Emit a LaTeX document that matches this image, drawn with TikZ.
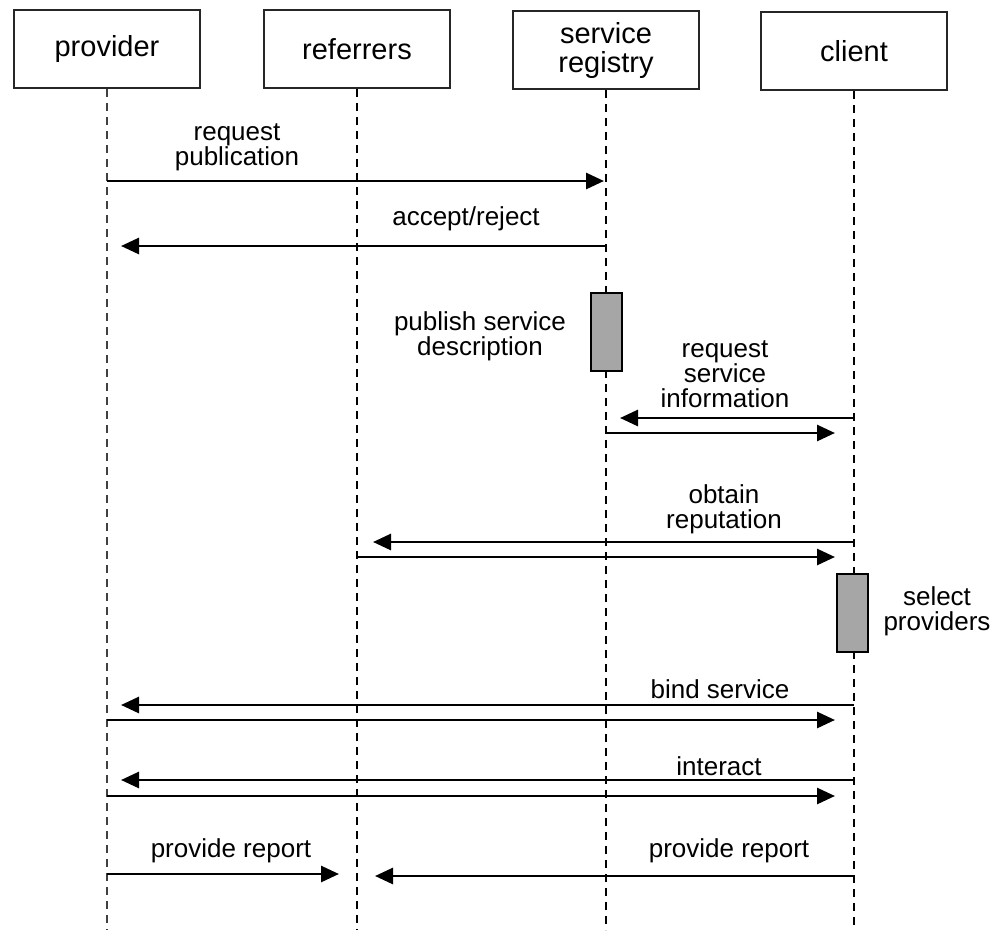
\documentclass[tikz,border=0pt]{standalone}
\usepackage{fontspec}
\setmainfont{Liberation Sans}
\usetikzlibrary{arrows.meta}
\begin{document}
\begin{tikzpicture}[x=1pt,y=-1pt,
  actor/.style={draw=black!85,line width=2pt,minimum width=186pt,minimum height=78pt,
    inner sep=0pt,align=center,font=\fontsize{29}{29}\selectfont},
  lifeline/.style={draw=black,line width=2.2pt,dash pattern=on 8pt off 6pt},
  msg/.style={draw=black,line width=2.8pt,-{Triangle[length=18pt,width=16pt]}},
  lbl/.style={align=center,inner sep=0pt,font=\fontsize{26}{25}\selectfont},
  actbar/.style={draw=black,line width=2pt,fill=black!35,minimum width=31pt,
    minimum height=78pt,inner sep=0pt}]
\useasboundingbox (0,0) rectangle (997,930);

% participants
\node[actor] (prov) at (107,49) {provider};
\node[actor] (refr) at (357,49) {referrers};
\node[actor] (reg)  at (606,50) {service\\registry};
\node[actor] (cli)  at (854,51) {client};

% lifelines
\coordinate (provEnd) at (107,930);
\coordinate (refrEnd) at (357,930);
\coordinate (regEnd)  at (606,930);
\coordinate (cliEnd)  at (854,930);
\draw[lifeline,draw=black!75] (prov.south) -- (provEnd);
\draw[lifeline] (refr.south) -- (refrEnd);
\draw[lifeline] (reg.south)  -- (regEnd);
\draw[lifeline] (cli.south)  -- (cliEnd);

% activation bars
\node[actbar] (pubbar) at (606,332) {};
\node[actbar] (selbar) at (852,613) {};

% request publication
\coordinate (rp1) at (107,181); \coordinate (rp2) at (604,181);
\draw[msg] (rp1) -- (rp2);
\node[lbl] (rpl) at (237,147) {request\\publication};

% accept/reject
\coordinate (ar1) at (606,246); \coordinate (ar2) at (121,246);
\draw[msg] (ar1) -- (ar2);
\node[lbl] (arl) at (466,219) {accept/reject};

% publish service description
\node[lbl] (psl) at (480,336) {publish service\\description};

% request service information
\coordinate (rs1) at (854,418); \coordinate (rs2) at (620,418);
\coordinate (rs3) at (606,433); \coordinate (rs4) at (835,433);
\draw[msg] (rs1) -- (rs2);
\draw[msg] (rs3) -- (rs4);
\node[lbl] (rsl) at (725,374) {request\\service\\information};

% obtain reputation
\coordinate (or1) at (854,542); \coordinate (or2) at (373,542);
\coordinate (or3) at (357,557); \coordinate (or4) at (835,557);
\draw[msg] (or1) -- (or2);
\draw[msg] (or3) -- (or4);
\node[lbl] (orl) at (724,509) {obtain\\reputation};

% select providers
\node[lbl] (spl) at (937,611) {select\\providers};

% bind service
\coordinate (bs1) at (854,705); \coordinate (bs2) at (121,705);
\coordinate (bs3) at (107,720); \coordinate (bs4) at (835,720);
\draw[msg] (bs1) -- (bs2);
\draw[msg] (bs3) -- (bs4);
\node[lbl] (bsl) at (720,689) {bind service};

% interact
\coordinate (in1) at (854,780); \coordinate (in2) at (121,780);
\coordinate (in3) at (107,796); \coordinate (in4) at (835,796);
\draw[msg] (in1) -- (in2);
\draw[msg] (in3) -- (in4);
\node[lbl] (inl) at (719,766) {interact};

% provide report
\coordinate (pr1) at (107,874); \coordinate (pr2) at (339,874);
\coordinate (pr3) at (854,876); \coordinate (pr4) at (375,876);
\draw[msg] (pr1) -- (pr2);
\draw[msg] (pr3) -- (pr4);
\node[lbl] (prl1) at (231,851) {provide report};
\node[lbl] (prl2) at (729,851) {provide report};
\end{tikzpicture}
\end{document}
